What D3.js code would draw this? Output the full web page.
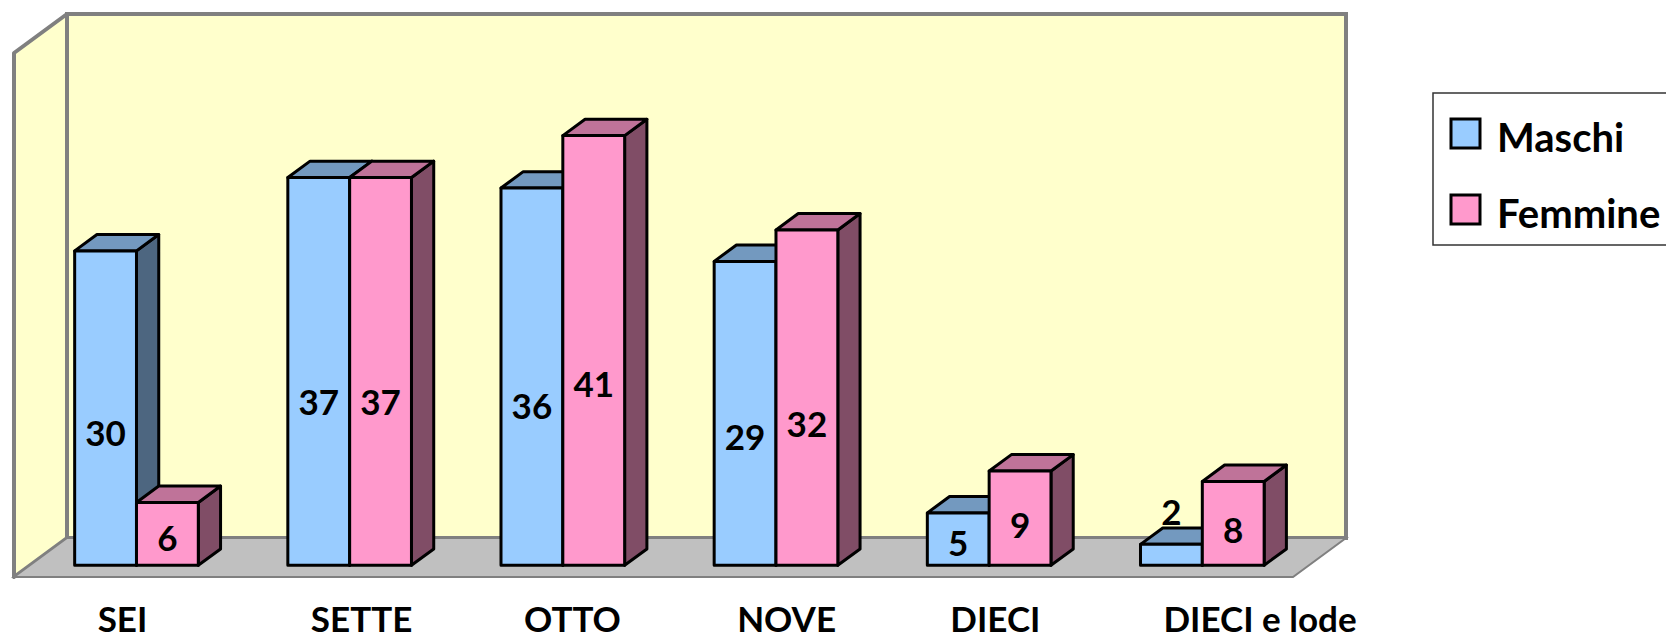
<!DOCTYPE html>
<html lang="it">
<head>
  <meta charset="UTF-8">
  <title>Maschi / Femmine</title>
  <script src="https://d3js.org/d3.v7.min.js"></script>
  <style>
    body { margin: 0; background: #fff; }
    svg { display: block; font-family: Lato, "Open Sans", sans-serif; font-weight: bold; }
  </style>
</head>
<body>
  <div id="chart"></div>
  <script>
    // data
    const categories = ["SEI", "SETTE", "OTTO", "NOVE", "DIECI", "DIECI e lode"];
    const seriesNames = ["Maschi", "Femmine"];
    const maschi = [30, 37, 36, 29, 5, 2];
    const femmine = [6, 37, 41, 32, 9, 8];
    const axisMax = 50;

    const colors = {
      Maschi:  { front: "#99CCFF", top: "#7399BF", side: "#4D6680" },
      Femmine: { front: "#FF99CC", top: "#BF7399", side: "#804D66" }
    };

    const width = 1666, height = 640;

    // oblique 3d frame: front-left floor corner, floor width, wall height, depth vector
    const ox = 14, oy = 577;
    const floorW = 1279, wallH = 524;
    const depth = { x: 53, y: -39 };
    const barFront = 0.3, barBack = 0.72; // fraction of depth where bars sit

    const svg = d3.select("#chart").append("svg")
      .attr("width", width)
      .attr("height", height);

    // value scale at the front plane of the floor
    const y = d3.scaleLinear().domain([0, axisMax]).range([oy, oy - wallH]);

    const x0 = d3.scaleBand()
      .domain(categories)
      .range([ox + depth.x * barFront, ox + floorW + depth.x * barFront])
      .paddingInner(0.42)
      .paddingOuter(0.21);

    const x1 = d3.scaleBand().domain(seriesNames).range([0, x0.bandwidth()]);

    const rows = categories.map((c, i) => ({ cat: c, Maschi: maschi[i], Femmine: femmine[i] }));

    const pts = a => a.map(p => p.join(",")).join(" ");

    // walls and floor
    const walls = svg.append("g");
    walls.append("rect")
      .attr("x", ox + depth.x)
      .attr("y", y(axisMax) + depth.y)
      .attr("width", floorW)
      .attr("height", wallH)
      .attr("fill", "#FFFFCC")
      .attr("stroke", "#808080")
      .attr("stroke-width", 4);
    walls.append("polygon")
      .attr("points", pts([[ox, y(axisMax)], [ox + depth.x, y(axisMax) + depth.y], [ox + depth.x, y(0) + depth.y], [ox, y(0)]]))
      .attr("fill", "#FFFFCC")
      .attr("stroke", "#808080")
      .attr("stroke-width", 4)
      .attr("stroke-linejoin", "round");
    walls.append("polygon")
      .attr("points", pts([[ox, y(0)], [ox + depth.x, y(0) + depth.y], [ox + floorW + depth.x, y(0) + depth.y], [ox + floorW, y(0)]]))
      .attr("fill", "#C0C0C0")
      .attr("stroke", "#808080")
      .attr("stroke-width", 2);

    // bars
    const fy = depth.y * barFront;                 // shift of bar front plane
    const bdx = depth.x * (barBack - barFront);    // bar depth
    const bdy = depth.y * (barBack - barFront);

    const bars = [];
    rows.forEach(r => seriesNames.forEach(s => {
      const xl = x0(r.cat) + x1(s);
      bars.push({ s, v: r[s], xl, xr: xl + x1.bandwidth(), yt: y(r[s]) + fy, yb: y(0) + fy });
    }));

    const g = svg.append("g")
      .attr("stroke", "#000")
      .attr("stroke-width", 3)
      .attr("stroke-linejoin", "round");

    bars.forEach(b => {
      g.append("polygon")
        .attr("points", pts([[b.xr, b.yt], [b.xr + bdx, b.yt + bdy], [b.xr + bdx, b.yb + bdy], [b.xr, b.yb]]))
        .attr("fill", colors[b.s].side);
      g.append("polygon")
        .attr("points", pts([[b.xl, b.yt], [b.xl + bdx, b.yt + bdy], [b.xr + bdx, b.yt + bdy], [b.xr, b.yt]]))
        .attr("fill", colors[b.s].top);
      g.append("rect")
        .attr("x", b.xl)
        .attr("y", b.yt)
        .attr("width", b.xr - b.xl)
        .attr("height", b.yb - b.yt)
        .attr("fill", colors[b.s].front);
    });

    // value labels: a little below the middle of the front face, above very short bars
    svg.append("g").selectAll("text")
      .data(bars)
      .join("text")
      .attr("x", d => (d.xl + d.xr) / 2)
      .attr("y", d => (d.yb - d.yt) < 30 ? d.yt + bdy - 16 : d.yt + 0.58 * (d.yb - d.yt))
      .attr("dy", "0.36em")
      .attr("text-anchor", "middle")
      .attr("font-size", 35)
      .attr("fill", "#000")
      .text(d => d.v);

    // category labels (left aligned a bit inside each group, like the original)
    svg.append("g").selectAll("text")
      .data(categories)
      .join("text")
      .attr("x", d => x0(d) + 23)
      .attr("y", 632)
      .attr("font-size", 35)
      .attr("fill", "#000")
      .text(d => d);

    // legend
    const legend = svg.append("g").attr("transform", "translate(1433,93)");
    legend.append("rect")
      .attr("width", 300)
      .attr("height", 152)
      .attr("fill", "#fff")
      .attr("stroke", "#333")
      .attr("stroke-width", 1.5);
    seriesNames.forEach((s, i) => {
      legend.append("rect")
        .attr("x", 18)
        .attr("y", 26 + i * 76)
        .attr("width", 29)
        .attr("height", 29)
        .attr("fill", colors[s].front)
        .attr("stroke", "#000")
        .attr("stroke-width", 3);
      legend.append("text")
        .attr("x", 64)
        .attr("y", 59 + i * 76)
        .attr("font-size", 40)
        .attr("fill", "#000")
        .text(s);
    });
  </script>
</body>
</html>
